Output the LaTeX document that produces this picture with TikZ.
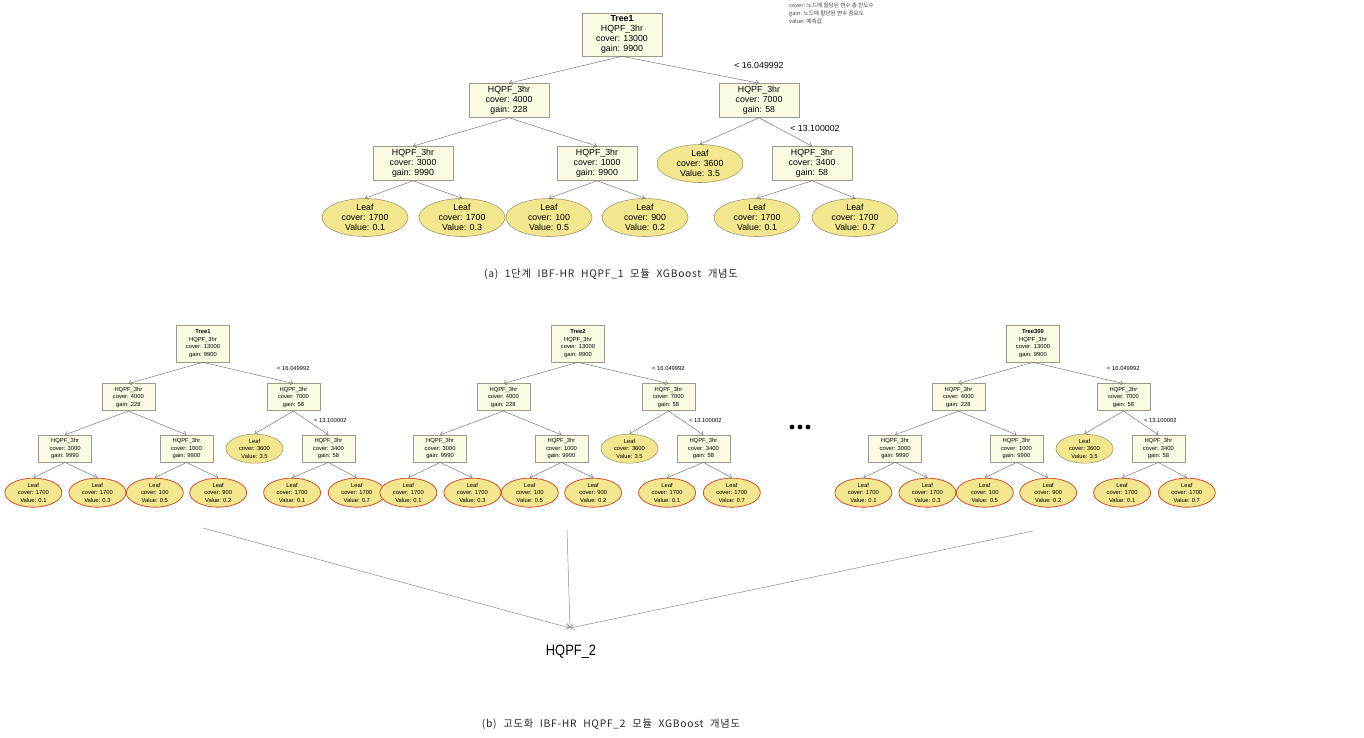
\documentclass[tikz,border=0pt]{standalone}
\usepackage{fontspec}
\setmainfont{Liberation Sans}
\newfontfamily\kr{Noto Sans CJK KR}
\newfontfamily\krcap[LetterSpace=7,WordSpace=2.2]{Noto Sans CJK KR}
\usetikzlibrary{shapes.geometric,arrows.meta}
\definecolor{boxfill}{HTML}{FBFBE3}
\definecolor{boxline}{HTML}{9A9A90}
\definecolor{leaffill}{HTML}{F2E68E}
\definecolor{leafline}{HTML}{A09A70}
\definecolor{leafred}{HTML}{D4502C}
\definecolor{edgecol}{HTML}{707070}
\tikzset{
  box/.style={draw=boxline, fill=boxfill, align=center, inner sep=0pt, line width=0.6pt},
  boxT/.style={box, minimum width=80pt, minimum height=34pt, font=\fontsize{8.8}{10.2}\selectfont},
  rootT/.style={boxT, minimum height=43pt},
  leafT/.style={ellipse, draw=leafline, fill=leaffill, minimum width=86pt, minimum height=34pt, inner sep=0pt, align=center, line width=0.6pt, font=\fontsize{8.8}{10.2}\selectfont},
  leafTx/.style={leafT},
  lblT/.style={font=\fontsize{8.8}{10}\selectfont, inner sep=0pt},
  boxB/.style={box, minimum width=53pt, minimum height=27pt, font=\fontsize{5.8}{7.6}\selectfont},
  rootB/.style={boxB, minimum height=37pt},
  leafB/.style={ellipse, draw=leafline, fill=leaffill, minimum width=57pt, minimum height=29pt, inner sep=0pt, align=center, line width=0.6pt, font=\fontsize{5.8}{7.6}\selectfont},
  leafBx/.style={leafB, draw=leafred, line width=0.8pt},
  lblB/.style={font=\fontsize{5.8}{7}\selectfont, inner sep=0pt},
  edge/.style={draw=edgecol, line width=0.45pt, -{Straight Barb[length=3pt,width=5pt]}},
  conv/.style={draw=edgecol!80, line width=0.5pt, -{Straight Barb[length=4pt,width=5pt]}},
  caption/.style={font=\krcap\fontsize{10.3}{11}\selectfont, inner sep=0pt, text=black!85},
  legend/.style={font=\kr\fontsize{5.6}{7.8}\selectfont, align=left, inner sep=0pt, anchor=north west, text=black!75}
}
% #1 prefix, #2 x, #3 y, #4 xscale, #5 yscale, #6 title, #7 style suffix
\newcommand{\xgtree}[7]{%
\begin{scope}[shift={(#2,#3)},xscale=#4,yscale=#5]
  \node[root#7] (#1r) at (0,0) {\textbf{#6}\\HQPF\_3hr\\cover: 13000\\gain: 9900};
  \node[box#7] (#1a) at (-113,66) {HQPF\_3hr\\cover: 4000\\gain: 228};
  \node[box#7] (#1b) at (137,66) {HQPF\_3hr\\cover: 7000\\gain: 58};
  \node[box#7] (#1aa) at (-209,129) {HQPF\_3hr\\cover: 3000\\gain: 9990};
  \node[box#7] (#1ab) at (-25,129) {HQPF\_3hr\\cover: 1000\\gain: 9900};
  \node[leaf#7] (#1ba) at (78,129) {Leaf\\cover: 3600\\Value: 3.5};
  \node[box#7] (#1bb) at (190,129) {HQPF\_3hr\\cover: 3400\\gain: 58};
  \node[leaf#7x] (#1aaa) at (-257,183) {Leaf\\cover: 1700\\Value: 0.1};
  \node[leaf#7x] (#1aab) at (-160,183) {Leaf\\cover: 1700\\Value: 0.3};
  \node[leaf#7x] (#1aba) at (-73,183) {Leaf\\cover: 100\\Value: 0.5};
  \node[leaf#7x] (#1abb) at (23,183) {Leaf\\cover: 900\\Value: 0.2};
  \node[leaf#7x] (#1bba) at (135,183) {Leaf\\cover: 1700\\Value: 0.1};
  \node[leaf#7x] (#1bbb) at (233,183) {Leaf\\cover: 1700\\Value: 0.7};
  \node[lbl#7] (#1l1) at (137,31) {< 16.049992};
  \node[lbl#7] (#1l2) at (193,94) {< 13.100002};
\end{scope}
\draw[edge] (#1r.south) -- (#1a.north);
\draw[edge] (#1r.south) -- (#1b.north);
\draw[edge] (#1a.south) -- (#1aa.north);
\draw[edge] (#1a.south) -- (#1ab.north);
\draw[edge] (#1b.south) -- (#1ba.north);
\draw[edge] (#1b.south) -- (#1bb.north);
\draw[edge] (#1aa.south) -- (#1aaa.north);
\draw[edge] (#1aa.south) -- (#1aab.north);
\draw[edge] (#1ab.south) -- (#1aba.north);
\draw[edge] (#1ab.south) -- (#1abb.north);
\draw[edge] (#1bb.south) -- (#1bba.north);
\draw[edge] (#1bb.south) -- (#1bbb.north);
}
\begin{document}
\begin{tikzpicture}[x=1pt,y=-1pt]
\useasboundingbox (0,0) rectangle (1364,737);
\fill[white] (0,0) rectangle (1364,737);
% (a) top tree
\xgtree{t}{622}{34.5}{1}{1}{Tree1}{T}
\node[legend] (leg) at (789,3) {cover: 노드에 할당된 변수 총 빈도수\\gain: 노드에 할당된 변수 중요도\\value: 예측값};
\node[caption] (capa) at (611,274) {(a) 1단계 IBF-HR HQPF\_1 모듈 XGBoost 개념도};
% (b) bottom trees
\xgtree{p}{203}{343.5}{0.66}{0.815}{Tree1}{B}
\xgtree{q}{578}{343.5}{0.66}{0.815}{Tree2}{B}
\xgtree{s}{1033}{343.5}{0.66}{0.815}{Tree300}{B}
\fill (792,427) circle (2.4) (800,427) circle (2.4) (808,427) circle (2.4);
\coordinate (c1) at (203,528);
\coordinate (c2) at (567,530);
\coordinate (c3) at (1033,531);
\coordinate (m) at (570,628);
\draw[conv] (c1) -- (m);
\draw[conv] (c2) -- (m);
\draw[conv] (c3) -- (m);
\node[font=\fontsize{15}{17}\selectfont, inner sep=0pt] (out) at (571,652) {\scalebox{0.86}[1]{HQPF\_2}};
\node[caption] (capb) at (611,724) {(b) 고도화 IBF-HR HQPF\_2 모듈 XGBoost 개념도};
\end{tikzpicture}
\end{document}
